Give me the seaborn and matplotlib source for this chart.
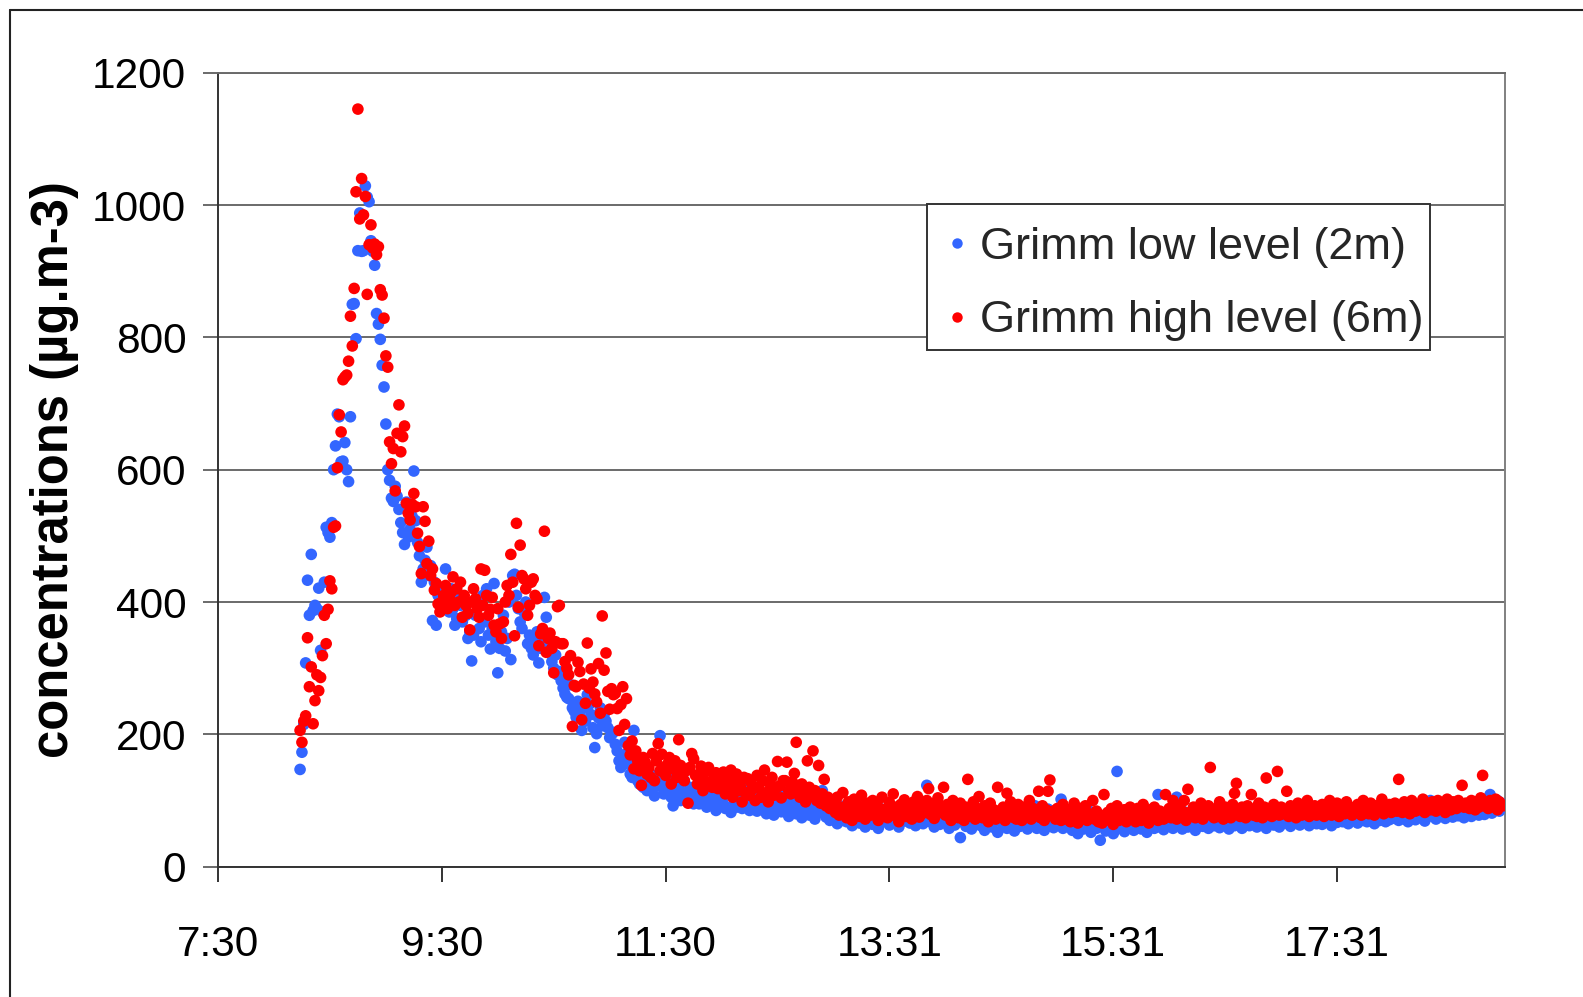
import numpy as np
import pandas as pd
import matplotlib
matplotlib.use("Agg")
import matplotlib.pyplot as plt
import seaborn as sns
from matplotlib import font_manager
from matplotlib.lines import Line2D
from matplotlib.patches import Rectangle

# One reading per minute, first reading at 08:14 (decimal hours)
start_hour = 8 + 14 / 60
step_hour = 1 / 60

# Grimm at 2 m (µg.m-3)
low_level = [
    147, 173, 215, 308, 433, 380, 472, 387, 395, 390, 421, 327, 385, 430, 513, 505, 498, 520, 600, 636,
    684, 680, 612, 613, 641, 600, 582, 680, 850, 851, 798, 931, 988, 930, 931, 1029, 1012, 1005, 946, 930,
    909, 836, 820, 797, 758, 725, 669, 600, 584, 557, 552, 575, 560, 540, 520, 505, 487, 551, 498, 510,
    530, 598, 523, 490, 470, 430, 450, 463, 483, 440, 455, 372, 430, 365, 410, 420, 395, 405, 450, 400,
    385, 420, 390, 365, 375, 410, 395, 370, 400, 380, 345, 355, 311, 350, 380, 395, 360, 340, 410, 370,
    420, 350, 329, 360, 428, 340, 293, 330, 355, 380, 326, 345, 400, 313, 440, 442, 410, 390, 370, 360,
    385, 400, 337, 350, 330, 320, 345, 355, 308, 330, 340, 407, 377, 340, 325, 310, 300, 320, 290, 295,
    281, 270, 261, 256, 254, 275, 240, 235, 226, 250, 230, 206, 240, 220, 260, 245, 230, 210, 180, 201,
    225, 240, 213, 230, 220, 210, 195, 200, 203, 185, 175, 160, 150, 165, 188, 171, 155, 140, 135, 206,
    145, 130, 125, 150, 120, 135, 115, 128, 140, 118, 107, 125, 135, 198, 120, 110, 128, 115, 140, 105,
    92, 110, 125, 118, 100, 112, 130, 105, 98, 120, 108, 95, 115, 102, 95, 110, 122, 100, 90, 105,
    115, 98, 92, 85, 108, 100,
    102, 95, 88, 110, 118, 82, 130, 96, 90, 105, 112, 88, 93, 120, 100, 85, 97, 108, 91, 84,
    115, 95, 88, 102, 80, 92, 110, 86, 78, 98, 105, 90, 83, 95, 112, 88, 76, 92, 100, 85,
    80, 96, 90, 74, 88, 102, 82, 78, 95, 86, 72, 90, 84, 98, 115, 80, 75, 88, 70, 85,
    72, 80, 65, 88, 76, 70, 92, 68, 75, 83, 62, 78, 90, 70, 66, 85, 74, 60, 80, 95,
    70, 64, 82, 76, 58, 88, 72, 68, 79, 85, 63, 74, 90, 67, 71, 60, 84, 77, 69, 93,
    75, 66, 80, 72, 62, 86, 70, 78, 65, 92, 123, 74, 68, 81, 60, 77, 85, 64, 72, 88,
    66, 74, 58, 82, 70, 63, 79, 90, 44, 68, 75, 61, 84, 72, 57, 77, 66, 88, 70, 62,
    80, 55, 73, 67, 86, 60, 71, 78, 52, 69, 83, 64, 75, 58, 90, 66, 72, 54, 80, 68,
    61, 76, 70, 85, 57, 67, 74, 63, 92, 58, 71, 66, 79, 55, 73, 87, 62, 68, 59, 76,
    64, 70, 102, 58, 75, 62, 68, 80, 55, 66, 73, 50, 61, 78, 57, 69, 64, 84, 52, 60,
    71, 58, 66, 40, 63, 75, 54, 68, 60, 72, 50, 66, 144, 58, 70, 62, 53, 76, 65, 59,
    68, 55, 73, 61, 82, 57, 64, 70, 52, 77, 63, 67, 58, 74, 109, 60, 69, 56, 80, 65,
    62, 75, 58, 70, 105, 64, 72, 57, 83, 66, 60, 78, 63, 69, 55, 74, 68, 88, 61, 72,
    65, 58, 77, 70, 62, 84, 67, 59, 73, 90, 64, 70, 57, 76, 68, 62, 80, 71, 66, 58,
    74, 69, 85, 62, 72, 66, 78, 60, 70, 88, 64, 75, 58, 71, 67, 82, 63, 76, 69, 60,
    72, 65, 80, 68, 74, 61, 86, 70, 66, 77, 63, 72, 90, 67, 75, 62, 79, 70, 84, 65,
    71, 78, 64, 73, 88, 69, 76, 62, 82, 70, 67, 75, 92, 68, 74, 80, 65, 77, 71, 86,
    73, 66, 80, 75, 70, 89, 68, 77, 72, 84, 65, 79, 74, 70, 93, 76, 68, 82, 71, 78,
    80, 73, 88, 70, 76, 85, 72, 79, 68, 90, 75, 82, 71, 87, 77, 74, 92, 69, 81, 76,
    100, 78, 84, 72, 90, 76, 80, 86, 73, 95, 79, 83, 75, 97, 88, 77, 82, 91, 74, 85,
    80, 93, 76, 87, 82, 98, 78, 90, 84, 79, 95, 86, 109, 81, 92, 88, 100, 84, 96, 90,
]

# Grimm at 6 m (µg.m-3)
high_level = [
    206, 188, 220, 228, 346, 272, 302, 216, 251, 290, 266, 286, 319, 380, 337, 389, 432, 420, 513, 515,
    603, 683, 657, 736, 740, 743, 764, 832, 787, 874, 1020, 1145, 979, 1040, 985, 1013, 865, 940, 970, 935,
    941, 925, 937, 872, 864, 829, 772, 755, 642, 609, 632, 568, 655, 698, 627, 650, 666, 549, 534, 524,
    548, 564, 544, 504, 484, 443, 544, 522, 458, 492, 440, 450, 418, 428, 397, 385, 400, 410, 425, 390,
    405, 415, 438, 395, 420, 400, 430, 377, 410, 395, 383, 358, 400, 420, 405, 390, 377, 450, 395, 448,
    410, 380, 389, 407, 365, 355, 390, 367, 345, 370, 400, 425, 410, 472, 430, 349, 519, 392, 486, 440,
    435, 420, 380, 395, 430, 435, 410, 405, 334, 352, 360, 507, 324, 345, 353, 330, 293, 340, 393, 395,
    337, 337, 310, 300, 290, 319, 212, 274, 272, 309, 295, 222, 276, 247, 338, 270, 299, 279, 261, 249,
    307, 232, 379, 297, 323, 265, 238, 269, 260, 262, 239, 206, 245, 272, 215, 254, 183, 169, 190, 148,
    175, 160, 145, 123, 165, 158, 140, 150, 135, 171, 130, 160, 186, 145, 170, 150, 138, 155, 165, 125,
    148, 160, 135, 192, 153, 140, 130, 145, 96, 150, 171, 163, 138, 125, 140, 152, 115, 130, 145, 150,
    128, 120, 135, 142, 118, 130,
    125, 143, 110, 132, 118, 146, 105, 128, 140, 115, 122, 98, 135, 112, 133, 108, 126, 118, 100, 138,
    120, 105, 130, 146, 112, 98, 125, 135, 108, 118, 159, 122, 104, 130, 130, 158, 115, 110, 128, 141,
    188, 118, 105, 125, 112, 98, 160, 120, 108, 175, 115, 100, 153, 96, 110, 132, 92, 105, 88, 100,
    95, 82, 105, 78, 90, 112, 85, 74, 98, 88, 70, 102, 80, 93, 76, 108, 84, 72, 96, 87,
    78, 100, 83, 92, 70, 88, 105, 79, 86, 74, 97, 82, 110, 77, 90, 68, 94, 85, 101, 76,
    89, 80, 72, 98, 84, 106, 75, 92, 81, 88, 100, 118, 79, 95, 73, 86, 104, 82, 91, 120,
    78, 94, 84, 70, 100, 82, 88, 74, 96, 80, 70, 90, 132, 84, 76, 98, 72, 88, 106, 80,
    74, 92, 82, 68, 96, 78, 86, 72, 120, 84, 76, 90, 70, 111, 82, 98, 75, 88, 72, 94,
    80, 70, 90, 76, 84, 100, 72, 88, 78, 82, 114, 74, 92, 70, 86, 114, 131, 78, 84, 72,
    88, 76, 70, 94, 80, 72, 86, 68, 82, 96, 74, 66, 88, 78, 72, 92, 70, 80, 76, 100,
    72, 84, 68, 78, 66, 109, 74, 82, 70, 88, 64, 76, 92, 70, 80, 72, 86, 68, 78, 90,
    74, 82, 68, 88, 76, 70, 94, 72, 80, 66, 86, 74, 90, 78, 70, 84, 76, 72, 109, 80,
    88, 74, 100, 80, 72, 92, 78, 84, 100, 70, 117, 82, 76, 90, 74, 86, 80, 96, 72, 84,
    78, 92, 150, 80, 74, 88, 76, 98, 82, 72, 90, 80, 86, 74, 94, 111, 126, 82, 76, 90,
    84, 74, 92, 80, 109, 78, 88, 76, 96, 82, 74, 90, 134, 80, 86, 76, 94, 82, 144, 78,
    90, 80, 86, 114, 76, 92, 82, 88, 74, 96, 84, 78, 90, 82, 100, 76, 88, 84, 92, 78,
    86, 80, 94, 76, 90, 84, 100, 78, 88, 82, 96, 76, 92, 86, 80, 98, 84, 90, 78, 88,
    82, 94, 86, 78, 100, 84, 90, 80, 96, 86, 78, 92, 88, 84, 102, 80, 90, 86, 94, 82,
    88, 96, 84, 132, 90, 82, 98, 86, 92, 80, 100, 88, 84, 94, 90, 86, 102, 82, 96, 90,
    86, 98, 90, 84, 100, 92, 88, 96, 82, 102, 90, 86, 98, 92, 88, 100, 94, 123, 90, 96,
    92, 88, 100, 94, 86, 98, 90, 104, 138, 92, 96, 88, 100, 94, 90, 102, 86, 98, 94, 92,
]

series_names = ["Grimm low level (2m)", "Grimm high level (6m)"]
series_colors = ["#3366FF", "#FF0000"]
tick_hours = [7.5, 9.5, 11.5, 13.5, 15.5, 17.5]
tick_labels = ["7:30", "9:30", "11:30", "13:31", "15:31", "17:31"]
y_ticks = [0, 200, 400, 600, 800, 1000, 1200]

sns.set_theme(style="white")
installed = {f.name for f in font_manager.fontManager.ttflist}
if "Liberation Sans Narrow" in installed:
    plt.rcParams["font.family"] = ["Liberation Sans Narrow", "Liberation Sans", "DejaVu Sans"]
    tick_fs, legend_fs, label_fs = 34, 38, 43
else:
    plt.rcParams["font.family"] = ["Liberation Sans", "DejaVu Sans"]
    tick_fs, legend_fs, label_fs = 30.5, 32.5, 36.5

n = len(low_level)
hours = start_hour + step_hour * np.arange(n)
df = pd.DataFrame({
    "hour": np.concatenate([hours, start_hour + step_hour * np.arange(len(high_level))]),
    "conc": low_level + high_level,
    "series": [series_names[0]] * n + [series_names[1]] * len(high_level),
})

W, H = 1583, 997
fig = plt.figure(figsize=(W / 100, H / 100), dpi=100)
ax = fig.add_axes([218 / W, 1 - 866.7 / H, 1287 / W, 794 / H])

sns.scatterplot(data=df, x="hour", y="conc", hue="series", palette=series_colors,
                s=70, linewidth=0, legend=False, ax=ax, zorder=3)

ax.set_xlim(7.5, 19.0)
ax.set_ylim(0, 1200)
ax.set_xticks(tick_hours)
ax.set_xticklabels(tick_labels)
ax.set_yticks(y_ticks)
ax.set_xlabel("")
ax.set_ylabel("")

grid_col = "#6a6a6a"
ax.yaxis.grid(True, color=grid_col, lw=1.4)
ax.xaxis.grid(False)
ax.set_axisbelow(True)
ax.tick_params(axis="y", direction="out", length=10.8, width=1.4, color=grid_col,
               pad=12, labelsize=tick_fs, left=True, labelcolor="black")
ax.tick_params(axis="x", direction="out", length=10.8, width=1.4, color="#333333",
               pad=31, labelsize=tick_fs, bottom=True, labelcolor="black")
for side, col in [("left", "#333333"), ("bottom", "#333333"), ("right", "#808080"), ("top", grid_col)]:
    ax.spines[side].set_visible(True)
    ax.spines[side].set_color(col)
    ax.spines[side].set_linewidth(1.4)

fig.text(55 / W, 1 - 470 / H, "concentrations (µg.m-3)", rotation=90, ha="center", va="center",
         fontsize=label_fs, fontweight="bold", color="black")

# legend box drawn separately so its padding can differ per side
box_x0, box_x1, box_y0, box_y1 = 0.5507, 0.9417, 0.6508, 0.8343
ax.add_patch(Rectangle((box_x0, box_y0), box_x1 - box_x0, box_y1 - box_y0, transform=ax.transAxes,
                       facecolor="white", edgecolor="#333333", lw=1.4, zorder=4))
handles = [Line2D([], [], ls="", marker="o", markersize=7.5, markeredgewidth=0, color=c)
           for c in series_colors]
leg = ax.legend(handles, series_names, loc="upper left", bbox_to_anchor=(box_x0, box_y1),
                borderaxespad=0, frameon=False, fontsize=legend_fs, borderpad=0.5,
                handlelength=0.32, handletextpad=0.37, labelspacing=0.72)
leg.set_zorder(5)

# frame lines along the top and left of the figure
fig.add_artist(Line2D([10 / W, 10 / W], [0, 1 - 10 / H], transform=fig.transFigure, color="#222222", lw=1.5))
fig.add_artist(Line2D([10 / W, 1], [1 - 10 / H, 1 - 10 / H], transform=fig.transFigure, color="#222222", lw=1.5))

fig.savefig("out.png", dpi=100)
